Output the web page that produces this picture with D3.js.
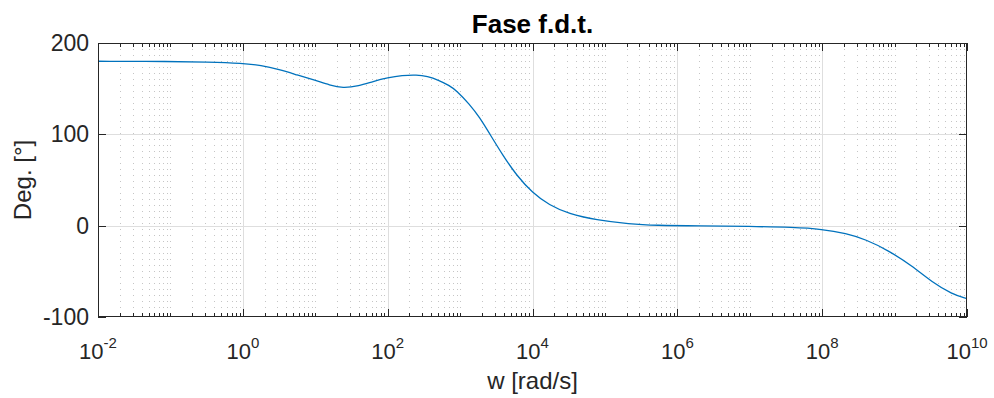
<!DOCTYPE html>
<html>
<head>
<meta charset="utf-8">
<script src="https://cdn.jsdelivr.net/npm/d3@7"></script>
<style>
  body { margin: 0; background: #fff; }
  text { font-family: "Liberation Sans", Arial, Helvetica, sans-serif; fill: #262626; }
</style>
</head>
<body>
<svg id="chart" width="994" height="398"></svg>
<script>
// Phase response samples: angular frequency [rad/s] and phase [deg]
const freq = [
  1e-2, 1e-1, 3.16e-1, 1, 1.78, 3.16, 5.62, 10, 15.8, 24,
  39.8, 63.1, 100, 158, 251, 355, 501, 708, 891, 1349,
  1862, 2570, 3890, 6026, 1e4, 1.7e4, 3.16e4, 7.59e4, 2.19e5, 5.01e5,
  2e6, 1e7, 3.98e7, 1e8, 2.14e8, 3.98e8, 8.32e8, 1.74e9, 3.31e9, 6.17e9, 1e10
];
const phase = [
  180, 179.8, 179.3, 178, 175.5, 171, 165, 159.2, 154, 150.5,
  153, 158, 162, 164.5, 165.2, 163.5, 159.5, 153.5, 148, 133,
  118.6, 100.4, 77, 55, 36, 22.5, 13, 6.2, 1.8, 0.3,
  -0.3, -0.8, -1.8, -3.8, -8.5, -15, -27.4, -44, -62, -74.8, -80
];
const xTickExponents = [-2, 0, 2, 4, 6, 8, 10];
const yTicks = [-100, 0, 100, 200];
const titleText = "Fase f.d.t.";
const xLabelText = "w [rad/s]";
const yLabelText = "Deg. [°]";

const svg = d3.select("#chart");
const plot = { left: 98, right: 967, top: 43, bottom: 317 };

const x = d3.scaleLog().domain([1e-2, 1e10]).range([plot.left, plot.right]);
const y = d3.scaleLinear().domain([-100, 200]).range([plot.bottom, plot.top]);

const axisColor = "#262626";
const majorTicks = xTickExponents.map(e => Math.pow(10, e));

// minor positions: 2..9 of every decade plus the odd powers of ten
const minorTicks = [];
for (let d = -2; d < 10; d++) {
  for (let k = 2; k <= 10; k++) {
    if (k === 10 && (d + 1) % 2 === 0) continue;
    minorTicks.push(k * Math.pow(10, d));
  }
}

svg.append("rect").attr("x", 0).attr("y", 0).attr("width", 994).attr("height", 398).attr("fill", "#fff");

const grid = svg.append("g");
// minor dotted grid
grid.selectAll("line.minor").data(minorTicks).join("line")
  .attr("x1", d => Math.round(x(d)) + 0.5).attr("x2", d => Math.round(x(d)) + 0.5)
  .attr("y1", plot.top).attr("y2", plot.bottom)
  .attr("stroke", "#8c8c8c").attr("stroke-opacity", 0.5)
  .attr("stroke-width", 1).attr("stroke-dasharray", "1,5");
// major grid
grid.selectAll("line.mx").data(majorTicks.slice(1, -1)).join("line")
  .attr("x1", d => Math.round(x(d)) + 0.5).attr("x2", d => Math.round(x(d)) + 0.5)
  .attr("y1", plot.top).attr("y2", plot.bottom)
  .attr("stroke", "#dedede").attr("stroke-width", 1);
grid.selectAll("line.my").data(yTicks.slice(1, -1)).join("line")
  .attr("x1", plot.left).attr("x2", plot.right)
  .attr("y1", d => Math.round(y(d)) + 0.5).attr("y2", d => Math.round(y(d)) + 0.5)
  .attr("stroke", "#dedede").attr("stroke-width", 1);

// phase curve
svg.append("clipPath").attr("id", "clip").append("rect")
  .attr("x", plot.left).attr("y", plot.top)
  .attr("width", plot.right - plot.left).attr("height", plot.bottom - plot.top);

const line = d3.line()
  .x((d, i) => x(freq[i]))
  .y(d => y(d))
  .curve(d3.curveBasis);

svg.append("path")
  .datum(phase)
  .attr("clip-path", "url(#clip)")
  .attr("d", line)
  .attr("fill", "none")
  .attr("stroke", "#0072BD")
  .attr("stroke-width", 1.3);

// ticks on all four sides, pointing inward
const ticks = svg.append("g").attr("stroke", axisColor).attr("stroke-width", 1);
const majLen = 8, minLen = 4;
majorTicks.forEach(v => {
  const px = Math.round(x(v)) + 0.5;
  ticks.append("line").attr("x1", px).attr("x2", px).attr("y1", plot.bottom).attr("y2", plot.bottom - majLen);
  ticks.append("line").attr("x1", px).attr("x2", px).attr("y1", plot.top).attr("y2", plot.top + majLen);
});
minorTicks.forEach(v => {
  const px = Math.round(x(v)) + 0.5;
  ticks.append("line").attr("x1", px).attr("x2", px).attr("y1", plot.bottom).attr("y2", plot.bottom - minLen);
  ticks.append("line").attr("x1", px).attr("x2", px).attr("y1", plot.top).attr("y2", plot.top + minLen);
});
yTicks.forEach(v => {
  const py = Math.round(y(v)) + 0.5;
  ticks.append("line").attr("x1", plot.left).attr("x2", plot.left + majLen).attr("y1", py).attr("y2", py);
  ticks.append("line").attr("x1", plot.right).attr("x2", plot.right - majLen).attr("y1", py).attr("y2", py);
});

// axes box
svg.append("rect")
  .attr("x", plot.left + 0.5).attr("y", plot.top + 0.5)
  .attr("width", plot.right - plot.left - 1).attr("height", plot.bottom - plot.top - 1)
  .attr("fill", "none").attr("stroke", axisColor).attr("stroke-width", 1);

// y tick labels
svg.append("g").selectAll("text").data(yTicks).join("text")
  .attr("x", plot.left - 9).attr("y", d => y(d))
  .attr("dy", "0.35em")
  .attr("text-anchor", "end")
  .attr("font-size", 23)
  .text(d => d);

// x tick labels as powers of ten
const xl = svg.append("g").selectAll("text").data(xTickExponents).join("text")
  .attr("x", d => x(Math.pow(10, d)))
  .attr("y", 359)
  .attr("text-anchor", "middle")
  .attr("font-size", 22);
xl.append("tspan").text("10");
xl.append("tspan").attr("dy", -11).attr("font-size", 15).text(d => d);

// title and axis labels
svg.append("text")
  .attr("x", (plot.left + plot.right) / 2).attr("y", 33)
  .attr("text-anchor", "middle").attr("font-size", 26).attr("font-weight", "bold")
  .style("fill", "#000")
  .text(titleText);

svg.append("text")
  .attr("x", (plot.left + plot.right) / 2).attr("y", 389)
  .attr("text-anchor", "middle").attr("font-size", 24)
  .text(xLabelText);

svg.append("text")
  .attr("transform", `translate(31, ${(plot.top + plot.bottom) / 2}) rotate(-90)`)
  .attr("text-anchor", "middle").attr("font-size", 24)
  .text(yLabelText);
</script>
</body>
</html>
